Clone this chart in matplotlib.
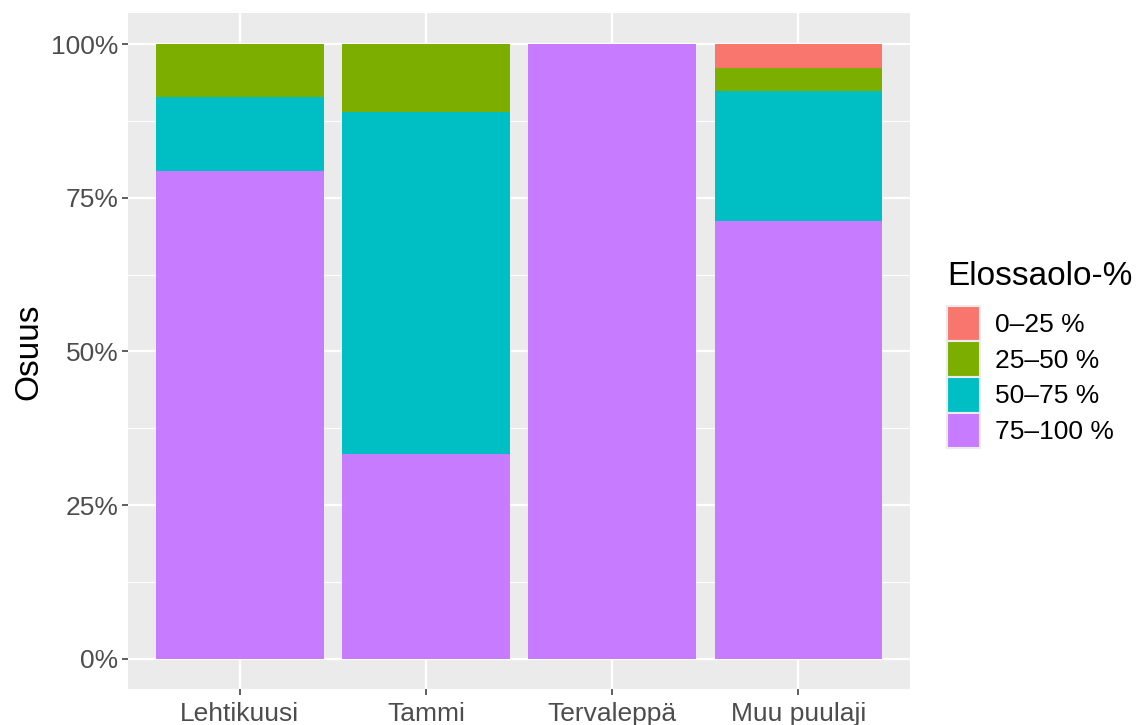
import matplotlib as mpl

mpl.use("Agg")

import matplotlib.pyplot as plt
import numpy as np
from matplotlib.patches import Patch
from matplotlib.ticker import FixedLocator

species = ["Lehtikuusi", "Tammi", "Tervaleppä", "Muu puulaji"]
classes = ["0–25 %", "25–50 %", "50–75 %", "75–100 %"]
class_colors = ["#F8766D", "#7CAE00", "#00BFC4", "#C77CFF"]

# shares per survival class, one list per species (stacked bottom -> top: 75-100, 50-75, 25-50, 0-25)
share_0_25 = [0.0, 0.0, 0.0, 0.0385]
share_25_50 = [0.087, 0.111, 0.0, 0.0385]
share_50_75 = [0.120, 0.556, 0.0, 0.2115]
share_75_100 = [0.793, 0.333, 1.0, 0.7115]

yticks = [0.0, 0.25, 0.5, 0.75, 1.0]
ytick_labels = ["0%", "25%", "50%", "75%", "100%"]

plt.rcParams["font.family"] = ["Liberation Sans", "DejaVu Sans"]

fig = plt.figure(figsize=(11.37, 7.25), dpi=100)
ax = fig.add_axes([0.1126, 0.0491, 0.8004 - 0.1126, 0.9817 - 0.0491])
ax.set_facecolor("#EBEBEB")

x = np.arange(1, len(species) + 1)
stack = [share_75_100, share_50_75, share_25_50, share_0_25]
stack_colors = class_colors[::-1]
bottom = np.zeros(len(species))
for vals, col in zip(stack, stack_colors):
    vals = np.array(vals)
    ax.bar(x, vals, width=0.9, bottom=bottom, color=col, linewidth=0, zorder=3)
    bottom += vals

ax.set_xlim(0.4, 4.6)
ax.set_ylim(-0.05, 1.05)
ax.set_xticks(x)
ax.set_xticklabels(species)
ax.set_yticks(yticks)
ax.set_yticklabels(ytick_labels)
ax.yaxis.set_minor_locator(FixedLocator([0.125, 0.375, 0.625, 0.875]))

ax.grid(which="major", color="white", linewidth=1.6, zorder=0)
ax.grid(which="minor", axis="y", color="white", linewidth=0.8, zorder=0)
ax.set_axisbelow(True)
for s in ax.spines.values():
    s.set_visible(False)

ax.tick_params(axis="both", which="major", length=4, width=1.1, color="#333333",
               labelsize=19, labelcolor="#4D4D4D", pad=3)
ax.tick_params(axis="x", which="major", pad=5)
ax.tick_params(axis="both", which="minor", length=0)
ax.set_ylabel("Osuus", fontsize=24, labelpad=5)

handles = [Patch(facecolor=c, edgecolor="#EBEBEB", linewidth=1.5) for c in class_colors]
leg = fig.legend(handles, classes, title="Elossaolo-%", loc="center left",
                 bbox_to_anchor=(0.8329, 0.511), frameon=False, fontsize=19,
                 title_fontsize=24, handlelength=1.25, handleheight=1.7,
                 handletextpad=0.55, labelspacing=0.0, borderpad=0,
                 borderaxespad=0)
leg._legend_box.align = "left"
leg._legend_box.sep = 10

fig.savefig("out.png", dpi=100)
